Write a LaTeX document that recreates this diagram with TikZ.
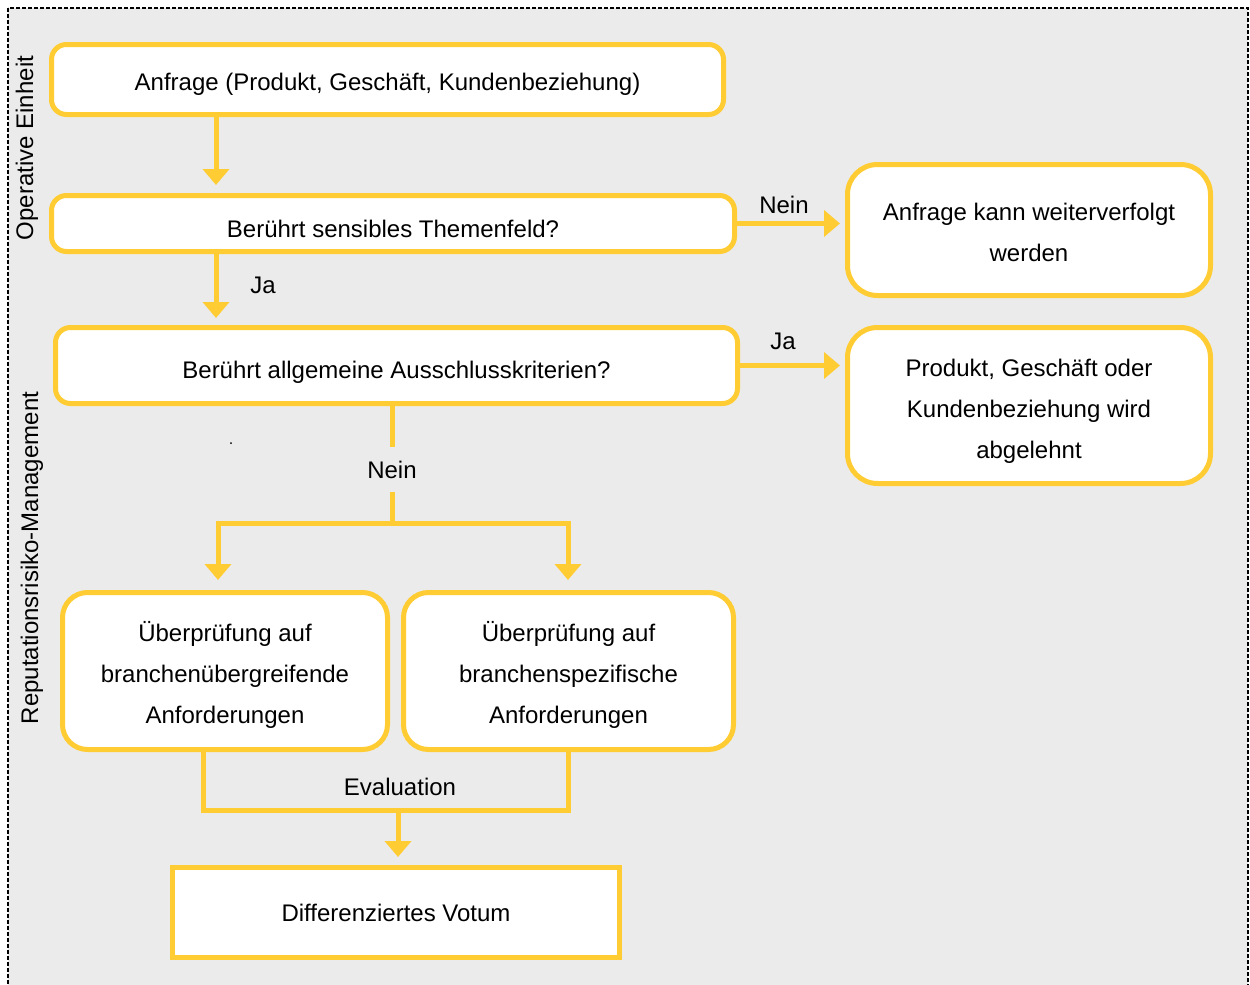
\documentclass[tikz,border=0pt]{standalone}
\usepackage{fontspec}
\setmainfont{Liberation Sans}
\usetikzlibrary{arrows.meta}
\newlength\upx
\setlength\upx{0.5pt}
\newcommand\dn[2]{\raisebox{-#1\upx}[\height][\depth]{\begin{tabular}{@{}c@{}}#2\end{tabular}}}
\definecolor{yel}{RGB}{255,204,51}
\definecolor{bggrey}{RGB}{235,235,235}
\begin{document}
\begin{tikzpicture}[x=0.5pt,y=-0.5pt,
  every node/.style={font=\fontsize{12}{20.5}\selectfont, text=black},
  box/.style={draw=yel, line width=5\upx, fill=white, inner sep=0pt, align=center},
  rbox/.style={box, rounded corners=15\upx},
  bigr/.style={box, rounded corners=30\upx},
  midr/.style={box, rounded corners=25\upx},
  conn/.style={draw=yel, line width=5\upx},
  tip/.style={Triangle[width=13pt,length=8pt]},
  arr/.style={conn, -{Triangle[width=13pt,length=8pt]}},
  lbl/.style={inner sep=0pt}
]
\useasboundingbox (0,0) rectangle (1250,985);
\clip (0,0) rectangle (1250,985);
\draw[fill=bggrey, line width=1.5\upx, dash pattern=on 4\upx off 2\upx] (8,8) rectangle (1248,1000);

% side labels
\node[rotate=90, lbl] (le1) at (27,148) {Operative Einheit};
\node[rotate=90, lbl] (le2) at (32,558) {Reputationsrisiko-Management};

% boxes
\node[rbox, minimum width=672\upx, minimum height=70\upx] (b1) at (387.5,79.5) {\dn{3}{Anfrage (Produkt, Geschäft, Kundenbeziehung)}};
\node[rbox, minimum width=683\upx, minimum height=56\upx] (b2) at (393,223.5) {\dn{6}{Berührt sensibles Themenfeld?}};
\node[bigr, minimum width=363\upx, minimum height=131\upx] (r1) at (1029,230) {\dn{3}{Anfrage kann weiterverfolgt\\werden}};
\node[rbox, minimum width=682\upx, minimum height=76\upx] (b3) at (396.5,365.5) {\dn{5}{Berührt allgemeine Ausschlusskriterien?}};
\node[bigr, minimum width=363\upx, minimum height=156\upx] (r2) at (1029,405.5) {\dn{4}{Produkt, Geschäft oder\\Kundenbeziehung wird\\abgelehnt}};
\node[midr, minimum width=325\upx, minimum height=157\upx] (b4) at (225,671) {\dn{3}{Überprüfung auf\\branchenübergreifende\\Anforderungen}};
\node[midr, minimum width=330\upx, minimum height=157\upx] (b5) at (568.5,671) {\dn{3}{Überprüfung auf\\branchenspezifische\\Anforderungen}};
\node[box, minimum width=447\upx, minimum height=90\upx] (b6) at (396,912.5) {\dn{1}{Differenziertes Votum}};

% column coordinates
\coordinate (xa) at (216,0);
\coordinate (xl) at (218,523);
\coordinate (xr) at (568,523);
\coordinate (sp) at (392,523);
\coordinate (el) at (203,810);
\coordinate (er) at (568,810);
\coordinate (em) at (398,810);

% connectors
\draw[arr, shorten >=8\upx] (b1.south -| xa) -- (b2.north -| xa);
\draw[arr, shorten >=7\upx] (b2.south -| xa) -- (b3.north -| xa);
\node[lbl] (ja1) at (263,285) {Ja};

\draw[arr, shorten >=5\upx] (b2.east) -- (b2.east -| r1.west);
\node[lbl] (nein1) at (784,205) {Nein};
\draw[arr, shorten >=5\upx] (b3.east) -- (b3.east -| r2.west);
\node[lbl] (ja2) at (783,341) {Ja};

\node[lbl, minimum height=45\upx] (nein2) at (392,469.5) {Nein};
\draw[conn] (b3.south -| nein2) -- (nein2.north);
\draw[conn] (nein2.south) -- (sp);
\draw[conn, {Triangle[width=13pt,length=8pt]}-{Triangle[width=13pt,length=8pt]}, shorten <=10\upx, shorten >=10\upx]
  (b4.north -| xl) -- (xl) -- (xr) -- (b5.north -| xr);

\draw[conn] (b4.south -| el) -- (el) -- (er) -- (b5.south -| er);
\node[lbl] (ev) at (400,787) {Evaluation};
\draw[arr, shorten >=8\upx] (em) -- (b6.north -| em);

\fill (231,443) circle (1\upx);
\end{tikzpicture}
\end{document}
